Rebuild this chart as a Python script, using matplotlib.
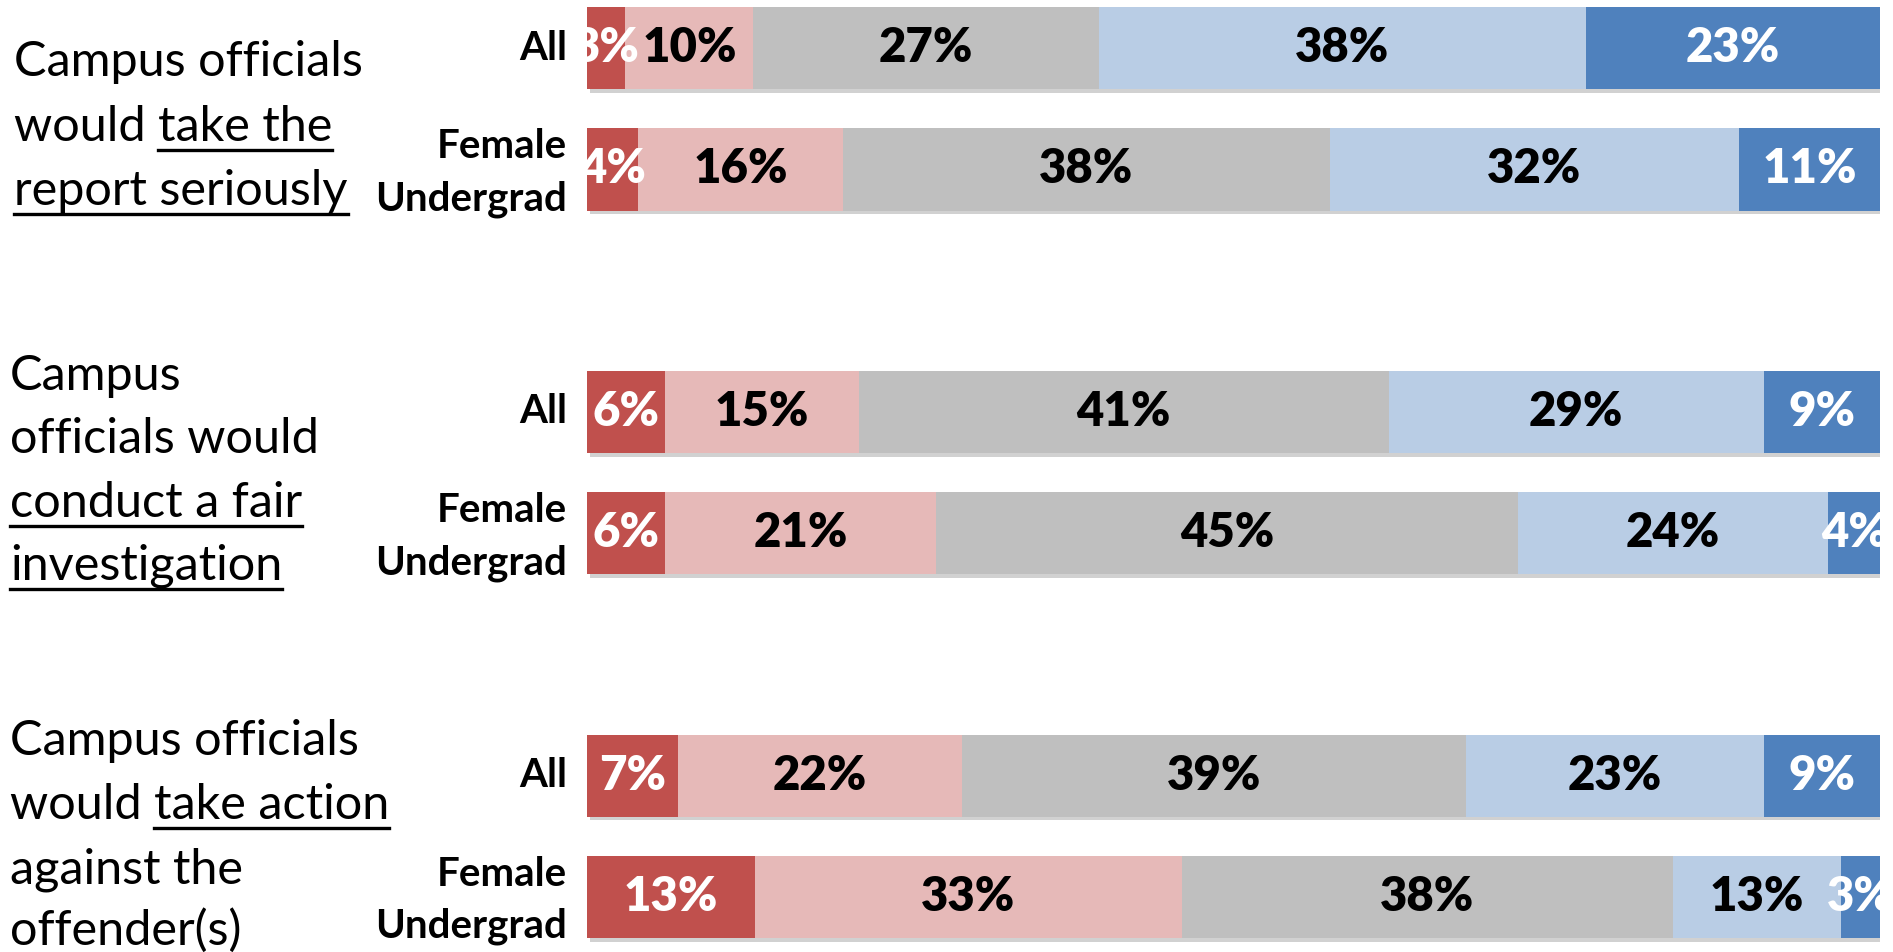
import matplotlib
matplotlib.use("Agg")
import matplotlib.pyplot as plt
import matplotlib.patheffects as pe
from matplotlib.lines import Line2D
from matplotlib.font_manager import FontProperties
from matplotlib.transforms import blended_transform_factory

# data
row_labels = ["All", "Female\nUndergrad"]
all_vals = [[3, 10, 27, 38, 23], [6, 15, 41, 29, 9], [7, 22, 39, 23, 9]]
female_vals = [[4, 16, 38, 32, 11], [6, 21, 45, 24, 4], [13, 33, 38, 13, 3]]

# question text, each line as (plain part, underlined part)
questions = [
    [("Campus officials", ""), ("would ", "take the"), ("", "report seriously")],
    [("Campus", ""), ("officials would", ""), ("", "conduct a fair"), ("", "investigation")],
    [("Campus officials", ""), ("would ", "take action"), ("against the", ""), ("offender(s)", "")],
]

colors = ["#C0504D", "#E6B9B8", "#BFBFBF", "#B9CDE5", "#4F81BD"]
text_colors = ["white", "black", "black", "black", "white"]

FONT = "Lato"
W, H = 1893, 952

fig = plt.figure(figsize=(W / 100, H / 100), dpi=100)
fig.patch.set_facecolor("white")

ax = fig.add_axes([587 / W, 0, 1293 / W, 1])
ax.set_xlim(0, 1)
ax.set_ylim(7.453, -0.396)
ax.axis("off")

shadow = [pe.SimplePatchShadow(offset=(2, -2.5), shadow_rgbFace="#999999", alpha=0.45), pe.Normal()]
label_tf = blended_transform_factory(fig.transFigure, ax.transData)

for g in range(3):
    for r, vals in enumerate([all_vals[g], female_vals[g]]):
        y = g * 3 + r
        total = sum(vals)
        left = 0
        for v, c, tc in zip(vals, colors, text_colors):
            w = v / total
            ax.barh(y, w, left=left, height=0.68, color=c, path_effects=shadow)
            ax.text(left + w / 2, y, f"{v}%", ha="center", va="center",
                    fontsize=34, fontweight="heavy", color=tc, family=FONT)
            left += w
        ax.text(567 / W, y + 0.03 * r, row_labels[r], transform=label_tf, ha="right",
                va="center", multialignment="right", fontsize=29,
                fontweight="bold", family=FONT, linespacing=1.5)

# question labels on the left, with partial underlines
renderer = fig.canvas.get_renderer()
fp = FontProperties(family=FONT, size=35)


def text_width(s):
    w, _, _ = renderer.get_text_width_height_descent(s, fp, ismath=False)
    return w


baselines = [[76, 141, 205], [390, 453, 517, 580], [755, 819, 883, 945]]
x_starts = [14, 10, 10]

for q, lines in enumerate(questions):
    x0 = x_starts[q]
    for (plain, under), base in zip(lines, baselines[q]):
        full = plain + under
        fig.text(x0 / W, 1 - base / H, full, ha="left", va="baseline",
                 fontproperties=fp, color="black")
        if under:
            end = x0 + text_width(full)
            start = end - text_width(under)
            uy = 1 - (base + 9) / H
            fig.add_artist(Line2D([start / W, end / W], [uy, uy],
                                  transform=fig.transFigure, color="black", lw=2.4))

fig.savefig("out.png", dpi=100, facecolor="white")
